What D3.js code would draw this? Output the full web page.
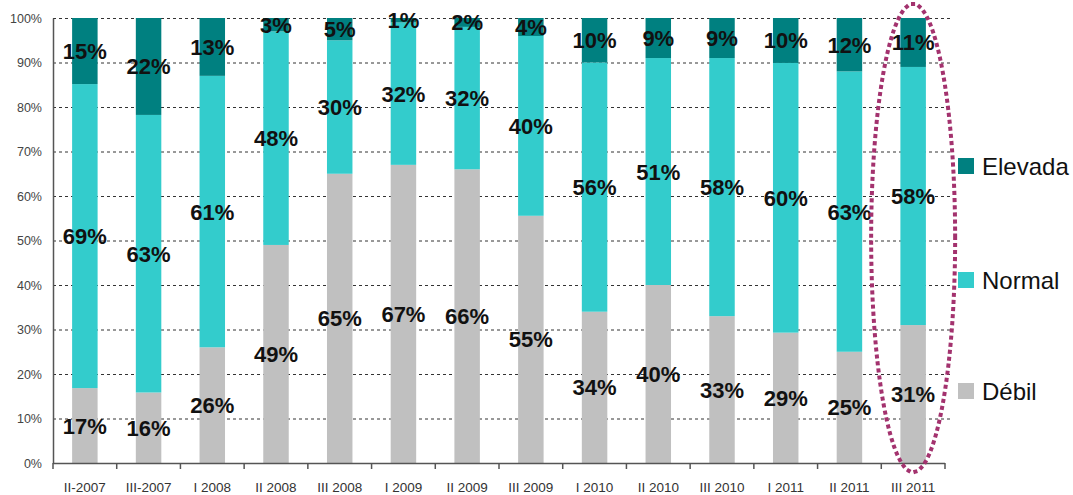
<!DOCTYPE html>
<html>
<head>
<meta charset="utf-8">
<script src="https://cdn.jsdelivr.net/npm/d3@7"></script>
<style>
  html, body { margin: 0; padding: 0; background: #fff; }
  svg { display: block; font-family: "Liberation Sans", Arial, sans-serif; }
</style>
</head>
<body>
<svg id="chart" width="1073" height="495"></svg>
<script>
// Periods (quarters)
const categories = ["II-2007", "III-2007", "I 2008", "II 2008", "III 2008", "I 2009", "II 2009",
  "III 2009", "I 2010", "II 2010", "III 2010", "I 2011", "II 2011", "III 2011"];
// Share of each level per period (%)
const debil   = [17, 16, 26, 49, 65, 67, 66, 55, 34, 40, 33, 29, 25, 31];
const normal  = [69, 63, 61, 48, 30, 32, 32, 40, 56, 51, 58, 60, 63, 58];
const elevada = [15, 22, 13, 3, 5, 1, 2, 4, 10, 9, 9, 10, 12, 11];
const seriesNames = ["Débil", "Normal", "Elevada"];
const seriesColors = ["#c0c0c0", "#33cccc", "#008080"];
const yTicks = [0, 0.1, 0.2, 0.3, 0.4, 0.5, 0.6, 0.7, 0.8, 0.9, 1];

const rows = categories.map((c, i) => ({ cat: c, "Débil": debil[i], "Normal": normal[i], "Elevada": elevada[i] }));

const svg = d3.select("#chart");
const plotLeft = 53, plotRight = 945, plotTop = 18, plotBottom = 463;

const x = d3.scaleBand().domain(categories).range([plotLeft, plotRight]).paddingInner(0.6).paddingOuter(0.3);
const y = d3.scaleLinear().domain([0, 1]).range([plotBottom, plotTop]);
const color = d3.scaleOrdinal().domain(seriesNames).range(seriesColors);

const stacked = d3.stack().keys(seriesNames).offset(d3.stackOffsetExpand)(rows);

// dashed gridlines
svg.append("g").selectAll("line").data(yTicks.slice(1)).join("line")
  .attr("x1", plotLeft).attr("x2", plotRight + 5)
  .attr("y1", d => y(d) + 0.5).attr("y2", d => y(d) + 0.5)
  .attr("stroke", "#333").attr("stroke-width", 1).attr("stroke-dasharray", "3,3");

// stacked bars
const layers = svg.append("g").selectAll("g").data(stacked).join("g")
  .attr("fill", d => color(d.key));
layers.selectAll("rect").data(d => d).join("rect")
  .attr("x", d => x(d.data.cat))
  .attr("width", x.bandwidth())
  .attr("y", d => y(d[1]))
  .attr("height", d => y(d[0]) - y(d[1]));

// y axis
const yAxis = d3.axisLeft(y).tickValues(yTicks).tickFormat(d3.format(".0%")).tickSize(0).tickPadding(11);
const gy = svg.append("g").attr("transform", `translate(${plotLeft},0)`).call(yAxis);
gy.select(".domain").attr("stroke", "#555").attr("stroke-width", 1.5);
gy.selectAll("text").attr("font-size", 12.5).attr("fill", "#444")
  .attr("font-family", "'Liberation Sans', Arial, sans-serif");

// x axis with ticks between categories
const gx = svg.append("g").attr("transform", `translate(0,${plotBottom})`);
gx.append("line").attr("x1", plotLeft).attr("x2", plotRight).attr("y1", 0.5).attr("y2", 0.5)
  .attr("stroke", "#555").attr("stroke-width", 1.5);
const step = x.step();
gx.selectAll("line.tick").data(d3.range(categories.length + 1)).join("line")
  .attr("class", "tick")
  .attr("x1", i => plotLeft + i * step).attr("x2", i => plotLeft + i * step)
  .attr("y1", 0).attr("y2", 6).attr("stroke", "#555").attr("stroke-width", 1.5);
gx.selectAll("text").data(categories).join("text")
  .attr("x", d => x(d) + x.bandwidth() / 2).attr("y", 29)
  .attr("text-anchor", "middle").attr("font-size", 13.5).attr("fill", "#333")
  .text(d => d);

// value labels
const labelsG = svg.append("g");
stacked.forEach(layer => {
  labelsG.selectAll(null).data(layer).join("text")
    .attr("x", d => x(d.data.cat) + x.bandwidth() / 2)
    .attr("y", d => (y(d[0]) + y(d[1])) / 2 + 8)
    .attr("text-anchor", "middle")
    .attr("font-size", 22).attr("font-weight", "bold").attr("fill", "#111")
    .text(d => d.data[layer.key] + "%");
});

// highlight around the latest period
const lastCat = categories[categories.length - 1];
svg.append("ellipse")
  .attr("cx", x(lastCat) + x.bandwidth() / 2)
  .attr("cy", 238).attr("rx", 42).attr("ry", 234)
  .attr("fill", "none").attr("stroke", "#a3326e").attr("stroke-width", 4)
  .attr("stroke-dasharray", "0.1,7").attr("stroke-linecap", "square");

// legend
const legendY = { "Elevada": 166, "Normal": 280, "Débil": 391 };
const lg = svg.append("g").selectAll("g").data(seriesNames).join("g")
  .attr("transform", d => `translate(958,${legendY[d]})`);
lg.append("rect").attr("x", 0).attr("y", -8).attr("width", 16).attr("height", 16)
  .attr("fill", d => color(d));
lg.append("text").attr("x", 24).attr("y", 8.5).attr("font-size", 24).attr("fill", "#111")
  .text(d => d);
</script>
</body>
</html>
